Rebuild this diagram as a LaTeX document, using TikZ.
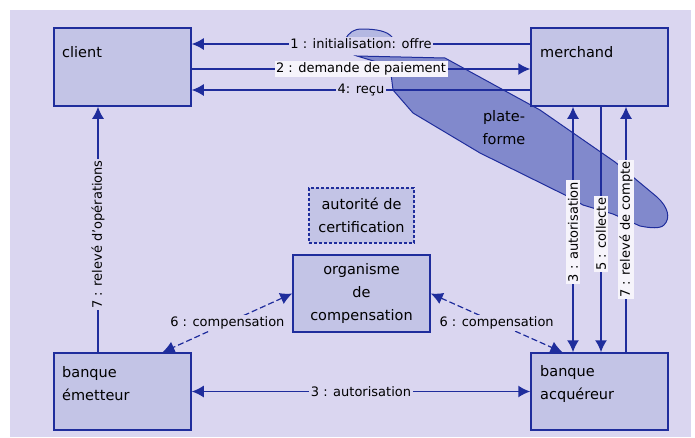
\documentclass[tikz,border=0pt]{standalone}
\usepackage{fontspec}
\setmainfont{DejaVu Sans}
\usetikzlibrary{arrows.meta}
\definecolor{bgc}{HTML}{DAD6F0}
\definecolor{boxc}{HTML}{C3C4E6}
\definecolor{linec}{HTML}{1F2D9C}
\definecolor{platc}{HTML}{8189CC}
\definecolor{wispc}{HTML}{B4B8E2}
\definecolor{lblw}{HTML}{F6F4FB}
\begin{document}
\begin{tikzpicture}[x=1pt,y=-1pt,
  box/.style={draw=linec,line width=1.5pt,fill=boxc,inner sep=0pt},
  btxt/.style={font=\fontsize{14.5}{23}\selectfont,inner sep=0pt},
  conn/.style={draw=linec,line width=1.5pt},
  tipend/.style={-{Latex[length=12pt,width=12pt]}},
  tipboth/.style={{Latex[length=12pt,width=12pt]}-{Latex[length=12pt,width=12pt]}},
  lbl/.style={font=\fontsize{13}{15}\selectfont,fill=bgc,inner sep=1.5pt,text=black},
  wlbl/.style={lbl,fill=lblw},
  dashln/.style={dash pattern=on 6pt off 3pt}
]
\useasboundingbox (0,0) rectangle (695,437);
\fill[white] (0,0) rectangle (695,437);
\fill[bgc] (10,10) rectangle (691,437);

% plate-forme
\filldraw[fill=platc,draw=linec,line width=1pt]
  (357,56) -- (445,58) -- (540,110) -- (615,162) -- (657,197)
  .. controls (668,207) and (671,218) .. (664,225)
  .. controls (660,229) and (650,228) .. (640,226)
  -- (613,214) -- (583,205) -- (567,196) -- (480,153) -- (413,113)
  -- (393,90) -- (390,66) -- cycle;
\filldraw[fill=wispc,draw=linec,line width=1pt]
  (345,40) .. controls (349,32) and (354,29) .. (362,29)
  .. controls (376,29) and (387,31) .. (392,37) -- (392,40) -- cycle;
\node[btxt,align=center] (platlbl) at (504,128) {plate-\\forme};

% boxes
\node[box,minimum width=137pt,minimum height=78pt] (client) at (122.5,67) {};
\node[box,minimum width=137pt,minimum height=78pt] (merchand) at (599.5,67) {};
\node[box,minimum width=137pt,minimum height=77pt] (emet) at (122.5,391.5) {};
\node[box,minimum width=137pt,minimum height=77pt] (acq) at (599.5,391.5) {};
\node[box,minimum width=137pt,minimum height=77pt,btxt,align=center] (org) at (361.5,293.5) {organisme\\de\\compensation};
\node[box,minimum width=105pt,minimum height=55pt,btxt,align=center,dash pattern=on 3pt off 2pt,line width=1.2pt] (cert) at (361.5,215.5) {autorité de\\certification};

\node[btxt,anchor=west] (clientlbl) at (62,52) {client};
\node[btxt,anchor=west] (merchlbl) at (540,52) {merchand};
\node[btxt,anchor=west,align=left] (emetlbl) at (62,383.5) {banque\\émetteur};
\node[btxt,anchor=west,align=left] (acqlbl) at (540,383.5) {banque\\acquéreur};

% top connectors
\draw[conn,tipend] ([yshift=23pt]merchand.west) -- node[lbl]{1 : initialisation: offre} ([yshift=23pt]client.east);
\draw[conn,tipend] ([yshift=-2pt]client.east) -- node[wlbl]{2 : demande de paiement} ([yshift=-2pt]merchand.west);
\draw[conn,tipend] ([yshift=-23pt]merchand.west) -- node[lbl]{4: reçu} ([yshift=-23pt]client.east);

% left vertical
\draw[conn,tipend] ([xshift=-24.5pt]emet.north) -- node[lbl,rotate=90,pos=0.48]{7 : relevé d'opérations} ([xshift=-24.5pt]client.south);

% right verticals
\draw[conn,tipboth] ([xshift=-26.5pt]merchand.south) -- node[wlbl,rotate=90,pos=0.51]{3 : autorisation} ([xshift=-26.5pt]acq.north);
\draw[conn,tipend] ([xshift=1.5pt]merchand.south) -- node[wlbl,rotate=90,pos=0.52]{5 : collecte} ([xshift=1.5pt]acq.north);
\draw[conn,tipend] ([xshift=26.5pt]acq.north) -- node[wlbl,rotate=90,pos=0.5]{7 : relevé de compte} ([xshift=26.5pt]merchand.south);

% bottom
\draw[conn,tipboth] (emet.east) -- node[lbl]{3 : autorisation} (acq.west);

% compensation
\draw[conn,dashln,tipboth,line width=1.2pt] (org.west) -- node[lbl]{6 : compensation} ([xshift=40pt]emet.north);
\draw[conn,dashln,tipboth,line width=1.2pt] (org.east) -- node[lbl]{6 : compensation} ([xshift=-37pt]acq.north);
\end{tikzpicture}
\end{document}
